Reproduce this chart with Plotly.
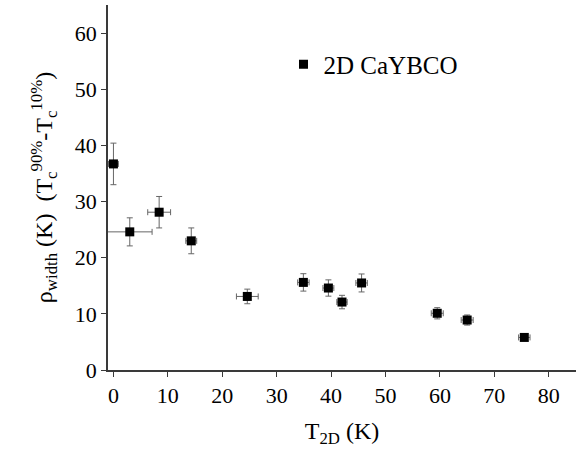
import plotly.graph_objects as go

# 2D CaYBCO: transition width vs T_2D
t2d = [0.0, 3.0, 8.4, 14.3, 24.6, 34.9, 39.5, 42.0, 45.6, 59.5, 65.0, 75.5]
t2d_err = [0.9, 4.1, 2.1, 1.0, 2.0, 1.05, 1.0, 0.95, 1.05, 1.1, 1.1, 1.05]
rho_width = [36.7, 24.6, 28.1, 23.0, 13.1, 15.6, 14.6, 12.1, 15.5, 10.1, 8.9, 5.8]
rho_err = [3.7, 2.5, 2.8, 2.3, 1.3, 1.55, 1.45, 1.2, 1.6, 1.0, 0.9, 0.5]

x_ticks = [0, 10, 20, 30, 40, 50, 60, 70, 80]
y_ticks = [0, 10, 20, 30, 40, 50, 60]

FONT = "Liberation Serif"
AXIS_COLOR = "#3a3a3a"
ERR_COLOR = "#666666"

fig = go.Figure()
fig.add_trace(go.Scatter(
    x=t2d, y=rho_width, mode="markers", name="2D CaYBCO",
    marker=dict(symbol="square", size=9, color="black"),
    error_x=dict(type="data", array=t2d_err, color=ERR_COLOR, thickness=1, width=3),
    error_y=dict(type="data", array=rho_err, color=ERR_COLOR, thickness=1, width=3),
))

fig.update_layout(
    width=576, height=450,
    margin=dict(l=108, r=0, t=5, b=80),
    plot_bgcolor="white", paper_bgcolor="white",
    showlegend=True,
    legend=dict(x=0.375, y=0.9, xanchor="left", yanchor="top",
                font=dict(family=FONT, size=25, color="black"),
                bgcolor="rgba(0,0,0,0)", itemwidth=30),
)
fig.update_xaxes(
    range=[-1, 85], tickvals=x_ticks, ticks="outside", ticklen=5, tickwidth=1.2,
    tickcolor=AXIS_COLOR, showline=True, linecolor=AXIS_COLOR, linewidth=1.5,
    showgrid=False, zeroline=False,
    tickfont=dict(family=FONT, size=22, color="black"),
    title=dict(text="T<sub>2D</sub> (K)", font=dict(family=FONT, size=24, color="black")),
)
fig.update_yaxes(
    range=[0, 65], tickvals=y_ticks, ticks="outside", ticklen=5, tickwidth=1.2,
    tickcolor=AXIS_COLOR, showline=True, linecolor=AXIS_COLOR, linewidth=1.5,
    showgrid=False, zeroline=False,
    tickfont=dict(family=FONT, size=22, color="black"),
    title=dict(text="ρ<sub>width</sub> (K)  (T<sub>c</sub><sup>90%</sup>-T<sub>c</sub><sup>10%</sup>)",
               font=dict(family=FONT, size=24, color="black")),
)

fig.write_html("out.html")
